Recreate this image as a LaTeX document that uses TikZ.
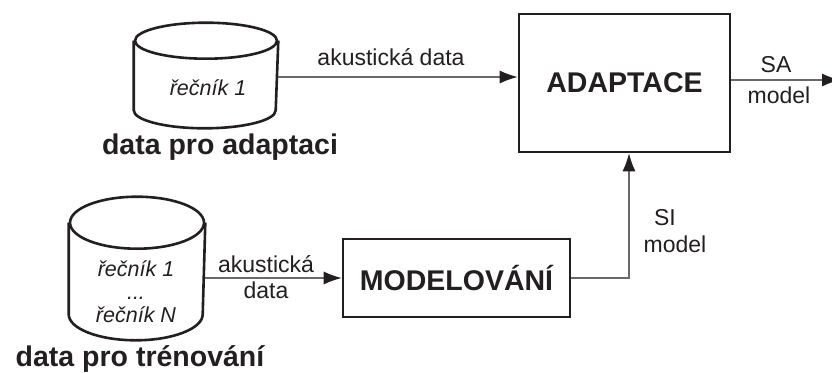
\documentclass[tikz,border=0pt]{standalone}
\usepackage{fontspec}
\setmainfont{Liberation Sans}
\usetikzlibrary{arrows.meta}
\definecolor{ink}{RGB}{35,31,32}
\definecolor{wire}{RGB}{105,105,105}

\begin{document}
\begin{tikzpicture}[x=1pt, y=-1pt,
	box/.style={draw=ink, line width=2.6pt, text=ink, font=\fontsize{28.5}{30}\selectfont\bfseries},
	dbbody/.style={inner sep=0pt, outer sep=1.3pt},
	dbline/.style={draw=ink, line width=2.6pt},
	link/.style={draw=wire, line width=1.2pt, -{Latex[length=18pt, width=13pt, color=ink]}},
	lbl/.style={text=ink, font=\fontsize{23}{26}\selectfont, inner sep=0pt},
	spkr/.style={text=ink, font=\fontsize{21.5}{23}\selectfont\itshape, inner sep=0pt, align=center},
	heading/.style={text=ink, font=\fontsize{28.5}{30}\selectfont\bfseries, inner sep=0pt}]
	\useasboundingbox (0,0) rectangle (832,372);

	% databases
	\node[dbbody, minimum width=142pt, minimum height=67pt] (adaptdb) at (206,75.5) {};
	\draw[dbline] (adaptdb.north) ellipse[x radius=71, y radius=18];
	\draw[dbline] (adaptdb.north west) -- (adaptdb.south west)
		arc[start angle=180, end angle=0, x radius=71, y radius=18] -- (adaptdb.north east);
	\node[spkr, anchor=base] (adaptspk) at (208,95) {řečník 1};
	\node[heading, anchor=base] (adaptname) at (220,154) {data pro adaptaci};

	\node[dbbody, minimum width=134pt, minimum height=89pt] (traindb) at (137,268.5) {};
	\draw[dbline] (traindb.north) ellipse[x radius=67, y radius=26];
	\draw[dbline] (traindb.north west) -- (traindb.south west)
		arc[start angle=180, end angle=0, x radius=67, y radius=26] -- (traindb.north east);
	\node[spkr, anchor=base] (trainspk) at (136,322) {řečník 1\\...\\řečník N};
	\node[heading, anchor=base] (trainname) at (140,366) {data pro trénování};

	% blocks
	\node[box, minimum width=211pt, minimum height=138pt] (adapt) at (624.5,83) {ADAPTACE};
	\node[box, minimum width=227pt, minimum height=78pt] (model) at (456.5,278) {MODELOVÁNÍ};
	\coordinate (out) at (840,80);

	% arrows
	\draw[link] (adaptdb.east |- 0,77) -- (adapt.west |- 0,77);
	\node[lbl, anchor=base] (acdata) at (391,65) {akustická data};

	\draw[link] (traindb.east |- model.west) -- (model.west);
	\node[lbl, anchor=base] (acword) at (266,272) {akustická};
	\node[lbl, anchor=base] (dataword) at (266,298) {data};

	\draw[link] (model.east) -| ([xshift=4.5pt]adapt.south);
	\node[lbl, anchor=base] (siword) at (665,225) {SI};
	\node[lbl, anchor=base] (simodel) at (675,252) {model};

	\draw[link] (adapt.east |- out) -- (out);
	\node[lbl, anchor=base] (saword) at (776,72) {SA};
	\node[lbl, anchor=base] (samodel) at (779,103) {model};
\end{tikzpicture}
\end{document}
